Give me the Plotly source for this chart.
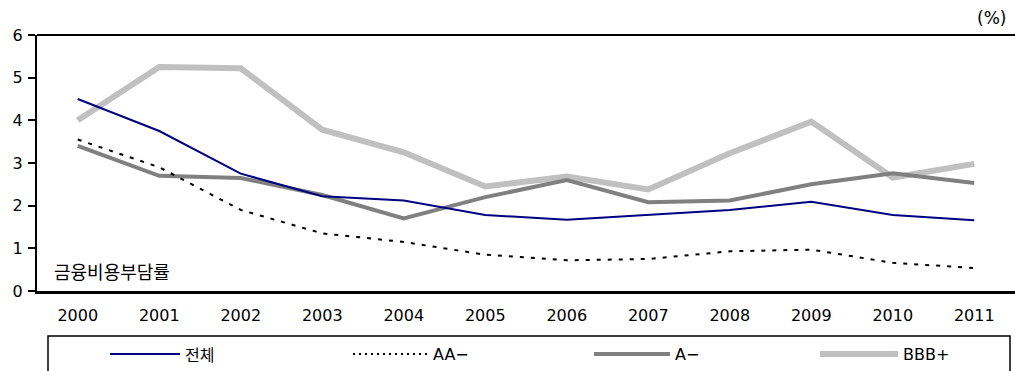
import plotly.graph_objects as go

years = ["2000", "2001", "2002", "2003", "2004", "2005", "2006", "2007", "2008", "2009", "2010", "2011"]
total = [4.50, 3.75, 2.75, 2.22, 2.12, 1.78, 1.67, 1.78, 1.90, 2.09, 1.78, 1.66]
aa_minus = [3.55, 2.90, 1.90, 1.35, 1.15, 0.85, 0.72, 0.75, 0.93, 0.97, 0.66, 0.54]
a_minus = [3.40, 2.70, 2.65, 2.25, 1.70, 2.20, 2.60, 2.08, 2.12, 2.50, 2.76, 2.53]
bbb_plus = [4.00, 5.25, 5.22, 3.78, 3.25, 2.45, 2.68, 2.38, 3.23, 3.97, 2.66, 2.98]
series_names = ["전체", "AA−", "A−", "BBB+"]
y_ticks = [0, 1, 2, 3, 4, 5, 6]

W, H = 1015, 371
ML, MR, MT, MB = 37, 0, 35, 80
PW, PH = W - ML - MR, H - MT - MB

def px(x):
    return (x - ML) / PW

def py(y):
    return (H - MB - y) / PH

styles = [
    dict(color="#000080", width=2, dash="solid"),
    dict(color="#000000", width=2, dash="4px,7px"),
    dict(color="#808080", width=4, dash="solid"),
    dict(color="#C0C0C0", width=6, dash="solid"),
]
data = [total, aa_minus, a_minus, bbb_plus]

fig = go.Figure()
order = [3, 2, 1, 0]
for i in order:
    fig.add_trace(go.Scatter(x=years, y=data[i], mode="lines", name=series_names[i],
                             line=styles[i], showlegend=False))

font_num = "DejaVu Sans, Arial, sans-serif"
font_kr = "Noto Sans CJK KR, sans-serif"
font_mix = "DejaVu Sans, Noto Sans CJK KR, sans-serif"

fig.update_layout(
    width=W, height=H,
    margin=dict(l=ML, r=MR, t=MT, b=MB, pad=0),
    paper_bgcolor="white", plot_bgcolor="white",
    showlegend=False,
    xaxis=dict(type="category", range=[-0.5, 11.5], showgrid=False, zeroline=False,
               showline=True, linecolor="black", linewidth=3, ticks="",
               tickfont=dict(family=font_num, size=16, color="black"), ticklabelstandoff=8),
    yaxis=dict(range=[0, 6], tickvals=y_ticks, showgrid=False, zeroline=False,
               showline=True, linecolor="black", linewidth=2, ticks="outside",
               ticklen=7, tickwidth=1.5, tickcolor="black",
               tickfont=dict(family=font_num, size=16, color="black"), ticklabelstandoff=2),
)

shapes = []
shapes.append(dict(type="line", xref="paper", yref="paper", x0=0, x1=1, y0=1, y1=1,
                   line=dict(color="black", width=2)))
shapes.append(dict(type="rect", xref="paper", yref="paper", x0=px(48), x1=px(1010),
                   y0=py(395), y1=py(336), line=dict(color="black", width=1.5),
                   fillcolor="rgba(0,0,0,0)"))
leg_y = 354
leg_items = [(110, 180, 183), (353, 427, 431), (594, 670, 673), (820, 898, 901)]
for i, (x0, x1, tx) in enumerate(leg_items):
    st = styles[i]
    dash = "2px,4px" if i == 1 else "solid"
    shapes.append(dict(type="line", xref="paper", yref="paper", x0=px(x0), x1=px(x1),
                       y0=py(leg_y), y1=py(leg_y),
                       line=dict(color=st["color"], width=st["width"], dash=dash)))
fig.update_layout(shapes=shapes)

annotations = []
for i, (x0, x1, tx) in enumerate(leg_items):
    annotations.append(dict(x=px(tx), y=py(leg_y), xref="paper", yref="paper",
                            text=series_names[i], showarrow=False, xanchor="left", yanchor="middle",
                            font=dict(family=font_kr if i == 0 else font_num, size=16, color="black")))
annotations.append(dict(x=px(1008), y=py(18), xref="paper", yref="paper", text="(%)",
                        showarrow=False, xanchor="right", yanchor="middle",
                        font=dict(family=font_num, size=17, color="black")))
annotations.append(dict(x=px(52), y=py(271), xref="paper", yref="paper", text="금융비용부담률",
                        showarrow=False, xanchor="left", yanchor="middle",
                        font=dict(family=font_kr, size=18, color="black")))
fig.update_layout(annotations=annotations)

fig.write_html("out.html")
